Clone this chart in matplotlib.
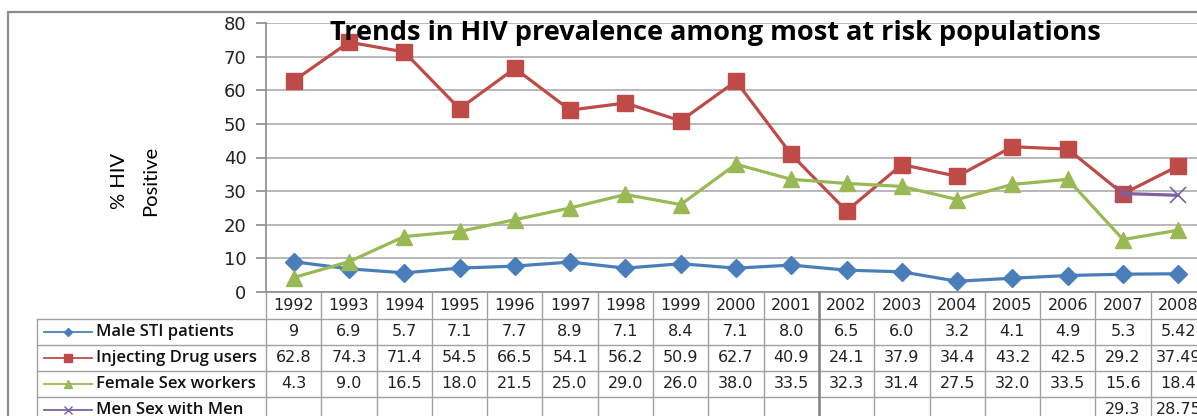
import matplotlib
matplotlib.use('Agg')
import matplotlib.pyplot as plt
from matplotlib.patches import Rectangle


years = ['1992', '1993', '1994', '1995', '1996', '1997', '1998', '1999', '2000',
         '2001', '2002', '2003', '2004', '2005', '2006', '2007', '2008']

male_sti = ['9', '6.9', '5.7', '7.1', '7.7', '8.9', '7.1', '8.4', '7.1',
            '8.0', '6.5', '6.0', '3.2', '4.1', '4.9', '5.3', '5.42']
drug_users = ['62.8', '74.3', '71.4', '54.5', '66.5', '54.1', '56.2', '50.9', '62.7',
              '40.9', '24.1', '37.9', '34.4', '43.2', '42.5', '29.2', '37.49']
sex_workers = ['4.3', '9.0', '16.5', '18.0', '21.5', '25.0', '29.0', '26.0', '38.0',
               '33.5', '32.3', '31.4', '27.5', '32.0', '33.5', '15.6', '18.4']
msm = ['', '', '', '', '', '', '', '', '', '', '', '', '', '', '', '29.3', '28.75']

series_names = ['Male STI patients', 'Injecting Drug users',
                'Female Sex workers', 'Men Sex with Men']
series_labels = [male_sti, drug_users, sex_workers, msm]
colors = ['#4A7EBB', '#BE4B48', '#98B954', '#7D60A0']
markers = ['D', 's', '^', 'x']
msizes = [9.5, 11.5, 11.5, 11]

W, H = 1197, 416
fig = plt.figure(figsize=(W / 100, H / 100), dpi=100)

# outer chart border
fig.patches.append(Rectangle((8 / W, 1 - 460 / H), 1.2, 448 / H, transform=fig.transFigure,
                             fill=False, edgecolor='#8C8C8C', linewidth=1.6))

# plot area in pixels: x 266..1206, y 23..292
px_l, px_r, px_t, px_b = 266, 1206, 23, 292
ax = fig.add_axes([px_l / W, 1 - px_b / H, (px_r - px_l) / W, (px_b - px_t) / H])
ax.set_xlim(-0.5, len(years) - 0.5)
ax.set_ylim(0, 80)
ax.set_yticks(range(0, 81, 10))
ax.set_xticks([])
ax.grid(axis='y', color='#ABABAB', linewidth=1.2)
ax.set_axisbelow(True)
for side in ['top', 'right']:
    ax.spines[side].set_visible(False)
ax.spines['left'].set_color('#8C8C8C')
ax.spines['bottom'].set_color('#8C8C8C')
ax.spines['left'].set_linewidth(1.2)
ax.spines['bottom'].set_linewidth(1.2)
ax.tick_params(axis='y', length=7, width=1.2, color='#8C8C8C', labelsize=13,
               labelcolor='#222222', pad=7)

xs = list(range(len(years)))
for labels, c, m, ms in zip(series_labels, colors, markers, msizes):
    pts = [(x, float(s)) for x, s in zip(xs, labels) if s != '']
    ax.plot([p[0] for p in pts], [p[1] for p in pts], color=c, marker=m,
            markersize=ms, linewidth=2.3, markeredgewidth=1 if m != 'x' else 1.2,
            clip_on=False, zorder=3)

fig.text(715 / W, 1 - 33 / H, 'Trends in HIV prevalence among most at risk populations',
         ha='center', va='center', fontsize=19.5, fontweight='bold', family='Open Sans')

fig.text(135 / W, 1 - 181 / H, '% HIV\nPositive', rotation=90, ha='center', va='center',
         multialignment='center', fontsize=14.5, linespacing=2.0, family='Lato')

# data table under the plot, same column scale as the plot
tb_top, tb_bot = 292, 422
tab = fig.add_axes([px_l / W, 1 - tb_bot / H, (px_r - px_l) / W, (tb_bot - tb_top) / H])
tab.set_xlim(-0.5, len(years) - 0.5)
tab.set_ylim(tb_bot, tb_top)
tab.axis('off')

row_edges = [292, 319, 345, 371, 397, 423]
col_left = -0.5 - (266 - 37) / 55.3
grid_kw = dict(color='#A0A0A0', linewidth=1.0, clip_on=False)

# horizontal rules
for y in row_edges[1:]:
    tab.plot([col_left, len(years) - 0.5], [y, y], **grid_kw)
# vertical rules
for i in range(len(years) + 1):
    x = i - 0.5
    kw = dict(grid_kw)
    if i == 10:
        kw.update(color='#808080', linewidth=1.8)
    tab.plot([x, x], [row_edges[0], row_edges[-1]], **kw)
tab.plot([col_left, col_left], [row_edges[1], row_edges[-1]], **grid_kw)

for i, yr in enumerate(years):
    tab.text(i, (row_edges[0] + row_edges[1]) / 2, yr, ha='center', va='center',
             fontsize=11.5, color='#222222', clip_on=False)

sample_x0 = -0.5 - (266 - 44) / 55.3
sample_x1 = -0.5 - (266 - 92) / 55.3
label_x = -0.5 - (266 - 96) / 55.3
for r, (name, labels, c, m) in enumerate(zip(series_names, series_labels, colors, markers)):
    yc = (row_edges[r + 1] + row_edges[r + 2]) / 2
    tab.plot([sample_x0, sample_x1], [yc, yc], color=c, linewidth=1.3, clip_on=False)
    tab.plot([(sample_x0 + sample_x1) / 2], [yc], color=c, marker=m,
             markersize=6 if m != 'D' else 4.5, markeredgewidth=1, clip_on=False)
    tab.text(label_x, yc, name, ha='left', va='center', fontsize=12,
             family='Open Sans', fontweight='semibold', color='#111111', clip_on=False)
    for i, s in enumerate(labels):
        if s:
            tab.text(i, yc, s, ha='center', va='center', fontsize=11.5,
                     color='#222222', clip_on=False)

fig.savefig('out.png', dpi=100)
